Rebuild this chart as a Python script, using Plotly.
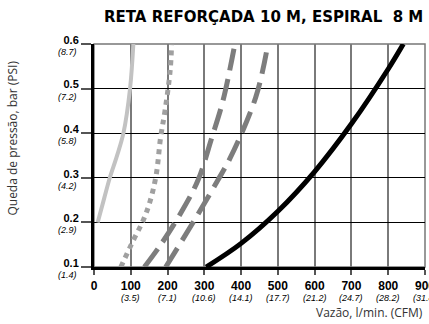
import plotly.graph_objects as go

# pressure drop curves (x: l/min, y: bar)
light_x = [10, 28, 43, 62, 80, 98, 107]
light_y = [0.2, 0.255, 0.3, 0.348, 0.4, 0.5, 0.6]

dotted_x = [73, 107, 134, 152, 169, 181, 193, 207, 211]
dotted_y = [0.1, 0.16, 0.205, 0.246, 0.306, 0.39, 0.45, 0.54, 0.6]

dash_a_x = [137, 184, 238, 283, 320, 351, 383]
dash_a_y = [0.1, 0.153, 0.224, 0.295, 0.389, 0.474, 0.6]

dash_b_x = [195, 279, 337, 370, 440, 473]
dash_b_y = [0.1, 0.213, 0.295, 0.344, 0.481, 0.6]

black_x = [305, 400, 500, 600, 700, 800, 841]
black_y = [0.1, 0.153, 0.225, 0.314, 0.421, 0.544, 0.6]

x_ticks = [0, 100, 200, 300, 400, 500, 600, 700, 800, 900]
x_cfm = ['', '3.5', '7.1', '10.6', '14.1', '17.7', '21.2', '24.7', '28.2', '31.8']
y_ticks = [0.1, 0.2, 0.3, 0.4, 0.5, 0.6]
y_psi = ['1.4', '2.9', '4.2', '5.8', '7.2', '8.7']

fig = go.Figure()
styles = [
    (light_x, light_y, '#c2c2c2', 4, 'solid'),
    (dotted_x, dotted_y, '#a0a0a0', 5, '5px,5px'),
    (dash_a_x, dash_a_y, '#7d7d7d', 5, '22px,9px'),
    (dash_b_x, dash_b_y, '#7d7d7d', 5, '22px,9px'),
    (black_x, black_y, '#000000', 5, 'solid'),
]
for xs, ys, col, w, dash in styles:
    fig.add_trace(go.Scatter(
        x = xs, y = ys, mode = 'lines',
        line = dict(color=col, width=w, dash=dash, shape='spline', smoothing=1),
        showlegend = False, hoverinfo = 'skip'
    ))

fig.update_xaxes(
    range = [0, 900],
    tickvals = x_ticks,
    ticktext = [f'<b>{v}</b>' for v in x_ticks],
    tickfont = dict(family='Liberation Sans', size=12, color='#000'),
    ticklabelstandoff = 1, ticklabeloverflow = 'allow',
    showgrid = True, gridcolor='#7a7a7a', gridwidth=1.5,
    showline = True, linecolor='black', linewidth=3,
    ticks = 'outside', ticklen=5, tickcolor='#555', tickwidth=1.5,
    zeroline = False, fixedrange=True, automargin=False,
)
fig.update_yaxes(
    range = [0.1, 0.6],
    tickvals = y_ticks,
    ticktext = [f'<b>{v:.1f}</b>' for v in y_ticks],
    tickfont = dict(family='Liberation Sans', size=11, color='#000'),
    ticklabelshift = -4,
    showgrid = True, gridcolor='#000000', gridwidth=1,
    showline = True, linecolor='black', linewidth=3,
    ticks = 'outside', ticklen=10, tickcolor='#555', tickwidth=1.5,
    zeroline = False, fixedrange=True, automargin=False,
)
fig.add_shape(type='rect', xref='paper', yref='paper', x0=0, x1=1, y0=0, y1=1,
              line=dict(color='#777', width=1.5), layer='below')

sub_font = dict(family='Liberation Sans', size=9, color='#000')
notes = []
for v, c in zip(x_ticks, x_cfm):
    if c:
        notes.append(dict(text=f'<i>({c})</i>', x=v, xref='x', y=0, yref='paper',
                          yshift=-31, xanchor='center', yanchor='middle',
                          showarrow=False, font=sub_font))
for v, p in zip(y_ticks, y_psi):
    notes.append(dict(text=f'<i>({p})</i>', x=0, xref='paper', y=v, yref='y',
                      xshift=-15, yshift=-8, xanchor='right', yanchor='middle',
                      showarrow=False, font=sub_font))

notes += [
    dict(text='<b>RETA REFORÇADA 10 M, ESPIRAL  8 M</b>',
         xref='paper', yref='paper', x=1, y=1.121,
         xanchor='right', yanchor='middle', showarrow=False,
         font=dict(family='DejaVu Sans', size=15, color='#000')),
    dict(text='Queda de pressão, bar (PSI)', textangle=-90,
         xref='paper', yref='paper', x=-0.245, y=0.58,
         xanchor='center', yanchor='middle', showarrow=False,
         font=dict(family='Open Sans', size=12, color='#333')),
    dict(text='Vazão, l/min. (CFM)',
         xref='paper', yref='paper', x=1, y=-0.202,
         xanchor='right', yanchor='middle', showarrow=False,
         font=dict(family='Open Sans', size=12, color='#333')),
]

fig.update_layout(
    width = 429, height = 324,
    margin = dict(l=94, r=4, t=44, b=57),
    plot_bgcolor = 'white', paper_bgcolor = 'white',
    annotations = notes,
)

fig.write_html("out.html", config={'displayModeBar': False},
               post_script="document.body.style.margin='0';")
